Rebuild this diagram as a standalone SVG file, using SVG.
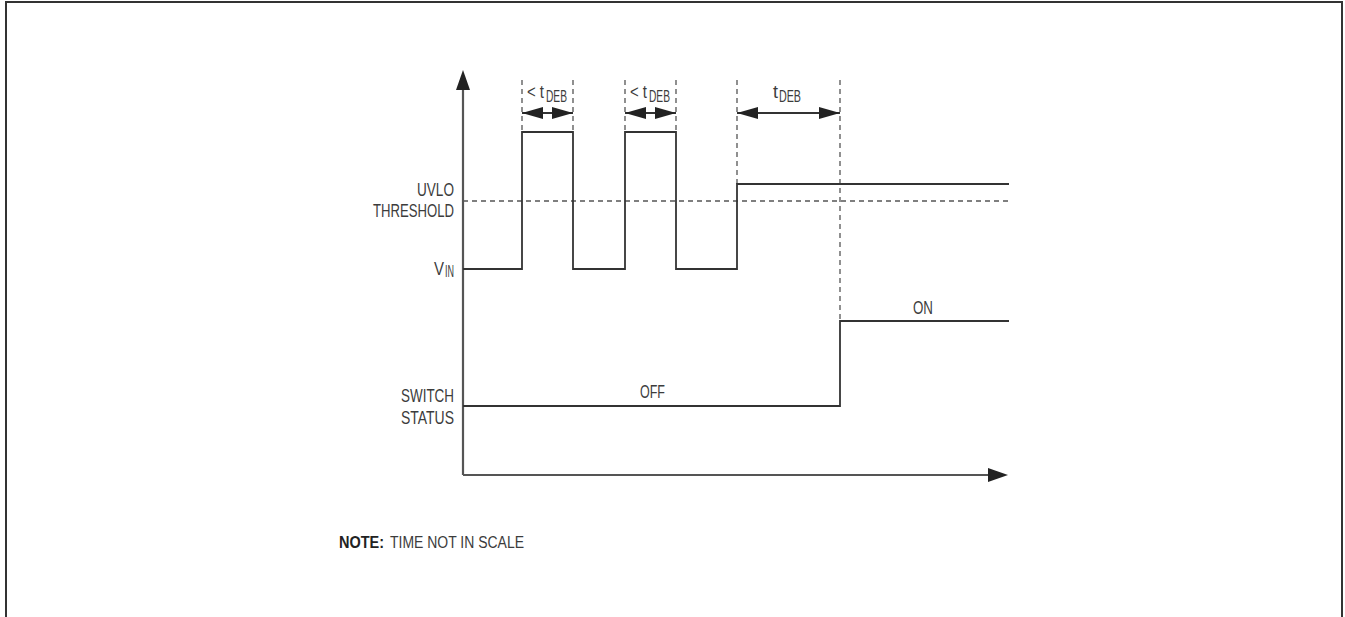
<svg xmlns="http://www.w3.org/2000/svg" width="1345" height="617" viewBox="0 0 1345 617">
<defs>
<style>
.t{font-family:"Liberation Sans",Arial,sans-serif;font-size:18px;fill:#3c3c3c}
.s{font-size:16px}
.n{font-size:16px}
.b{font-weight:bold;fill:#222}
.ln{stroke:#333;stroke-width:1.8;fill:none}
.ax{stroke:#555;stroke-width:2.2;fill:none}
.dash{stroke:#555;stroke-width:1.3;stroke-dasharray:5 4;fill:none}
.frame{stroke:#333;stroke-width:2;fill:none}
</style>
<marker id="ah" markerWidth="21" markerHeight="12" refX="21" refY="6" orient="auto-start-reverse" markerUnits="userSpaceOnUse">
<path d="M0,0 L21,6 L0,12 Z" fill="#222"/>
</marker>
</defs>
<rect width="1345" height="617" fill="#fff"/>
<path class="frame" d="M6,620 V2 H1342 V620"/>

<g id="axes">
<path class="ax" d="M463,475 V88"/>
<path d="M456,90 L463,70 L470,90 Z" fill="#222"/>
<path class="ax" d="M463,475 H990"/>
<path d="M988,468 L1008,475 L988,482 Z" fill="#222"/>
</g>

<g id="guides">
<path class="dash" d="M463,201 H1009"/>
<path class="dash" d="M522,80 V132 M573,80 V132 M625,80 V132 M676,80 V132 M737,80 V184 M840,80 V321"/>
</g>

<g id="connectors">
<path class="ln" d="M522,113 H573" marker-start="url(#ah)" marker-end="url(#ah)"/>
<path class="ln" d="M625,113 H676" marker-start="url(#ah)" marker-end="url(#ah)"/>
<path class="ln" d="M737,113 H840" marker-start="url(#ah)" marker-end="url(#ah)"/>
</g>

<g id="vin-signal">
<path class="ln" d="M463,269 H522 V132 H573 V269 H625 V132 H676 V269 H737 V184 H1009"/>
</g>

<g id="switch-signal">
<path class="ln" d="M463,406 H840 V321 H1009"/>
</g>

<g id="labels">
<text class="t" x="454" y="196" text-anchor="end" textLength="37" lengthAdjust="spacingAndGlyphs">UVLO</text>
<text class="t" x="454" y="217" text-anchor="end" textLength="81" lengthAdjust="spacingAndGlyphs">THRESHOLD</text>
<text class="t" x="434" y="275" textLength="10" lengthAdjust="spacingAndGlyphs">V</text>
<text class="t s" x="445" y="277" textLength="9" lengthAdjust="spacingAndGlyphs">IN</text>
<text class="t" x="454" y="402" text-anchor="end" textLength="53" lengthAdjust="spacingAndGlyphs">SWITCH</text>
<text class="t" x="454" y="424" text-anchor="end" textLength="53" lengthAdjust="spacingAndGlyphs">STATUS</text>
<text class="t" x="527" y="98" textLength="17" lengthAdjust="spacingAndGlyphs">&lt; t</text>
<text class="t s" x="546" y="102" textLength="21" lengthAdjust="spacingAndGlyphs">DEB</text>
<text class="t" x="630" y="98" textLength="17" lengthAdjust="spacingAndGlyphs">&lt; t</text>
<text class="t s" x="649" y="102" textLength="21" lengthAdjust="spacingAndGlyphs">DEB</text>
<text class="t" x="773" y="98" textLength="5" lengthAdjust="spacingAndGlyphs">t</text>
<text class="t s" x="779" y="102" textLength="22" lengthAdjust="spacingAndGlyphs">DEB</text>
<text class="t" x="640" y="398" textLength="25" lengthAdjust="spacingAndGlyphs">OFF</text>
<text class="t" x="913" y="314" textLength="20" lengthAdjust="spacingAndGlyphs">ON</text>
<text class="t n b" x="339" y="548" textLength="45" lengthAdjust="spacingAndGlyphs">NOTE:</text>
<text class="t n" x="390" y="548" textLength="134" lengthAdjust="spacingAndGlyphs">TIME NOT IN SCALE</text>
</g>
</svg>
